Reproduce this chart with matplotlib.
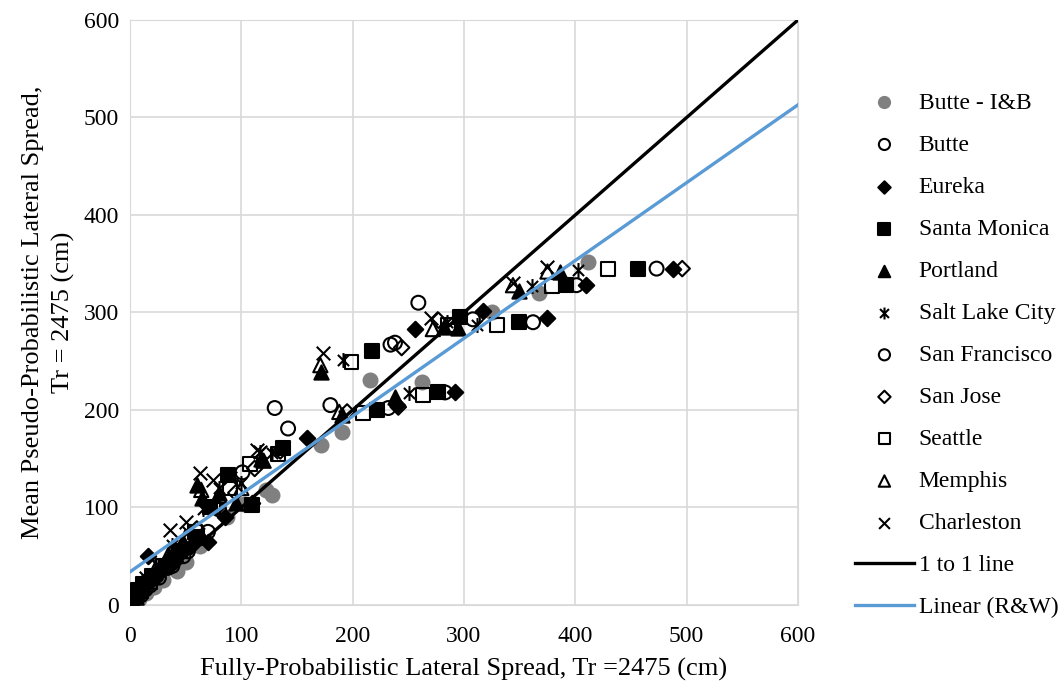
import numpy as np
import matplotlib.pyplot as plt
from matplotlib.path import Path

plt.rcParams['font.family'] = ['Liberation Serif', 'DejaVu Serif']

# (fully-probabilistic, pseudo-probabilistic) pairs, cm
butte_ib = [(2, 1), (8, 6), (14, 12), (22, 18), (30, 26), (42, 35), (50, 44), (63, 60), (87, 90),
            (102, 104), (122, 118), (128, 113), (172, 164), (190, 177), (216, 231), (262, 229),
            (325, 300), (367, 320), (411, 352)]
butte = [(1, 0), (4, 3), (10, 10), (18, 20), (26, 28), (38, 40), (52, 55), (70, 75), (101, 136),
         (142, 181), (180, 205), (234, 267), (259, 310), (362, 290), (473, 345)]
eureka = [(3, 4), (8, 10), (16, 50), (28, 35), (40, 45), (55, 60), (70, 65), (85, 90), (110, 105),
          (159, 171), (240, 205), (256, 283), (292, 218), (317, 302), (375, 294), (410, 328), (488, 345)]
santa_monica = [(2, 3), (7, 15), (12, 22), (20, 30), (32, 40), (45, 55), (60, 70), (72, 100), (88, 133),
                (110, 103), (137, 161), (217, 261), (222, 200), (277, 218), (296, 295), (349, 290),
                (392, 328), (456, 345)]
portland = [(5, 8), (12, 20), (20, 30), (35, 50), (48, 65), (60, 123), (65, 110), (80, 115), (95, 105),
            (118, 150), (172, 239), (190, 195), (238, 213), (282, 285), (295, 284), (349, 322), (386, 342)]
salt_lake = [(6, 12), (14, 25), (25, 40), (38, 62), (52, 75), (66, 98), (80, 120), (100, 125), (117, 157),
             (128, 156), (191, 251), (251, 217), (285, 290), (312, 287), (361, 327), (402, 344)]
san_francisco = [(0, 0), (6, 5), (14, 16), (24, 30), (34, 38), (48, 50), (62, 68), (80, 98), (130, 202),
                 (238, 269), (308, 293), (232, 202), (283, 218), (401, 328)]
san_jose = [(3, 2), (10, 12), (20, 25), (32, 42), (46, 58), (60, 78), (78, 100), (95, 115), (112, 140),
            (135, 158), (195, 198), (241, 203), (244, 264), (277, 292), (496, 345)]
seattle = [(4, 6), (10, 14), (18, 24), (30, 40), (44, 55), (58, 75), (75, 100), (90, 120), (108, 145),
           (133, 155), (199, 249), (209, 197), (263, 215), (286, 287), (330, 287), (379, 327), (429, 345)]
memphis = [(5, 10), (12, 22), (22, 35), (36, 55), (50, 70), (64, 118), (80, 112), (100, 120), (120, 148),
           (171, 246), (188, 198), (272, 283), (344, 328), (375, 342)]
charleston = [(6, 15), (14, 28), (24, 42), (36, 77), (50, 85), (63, 135), (75, 128), (90, 130), (114, 159),
              (117, 157), (173, 258), (270, 294), (344, 330), (375, 347)]

one_to_one_x = [0, 600]
one_to_one_y = [0, 600]
trend_x = [0, 600]
trend_y = [34, 513]

# Excel-style star marker: X with a vertical bar
star = Path([(0, -1), (0, 1), (-0.75, -0.75), (0.75, 0.75), (-0.75, 0.75), (0.75, -0.75)],
            [Path.MOVETO, Path.LINETO, Path.MOVETO, Path.LINETO, Path.MOVETO, Path.LINETO])

series = [
    ("Butte - I&B", butte_ib, dict(marker='o', s=100, facecolors='#808080', edgecolors='#808080')),
    ("Butte", butte, dict(marker='o', s=100, facecolors='none', edgecolors='black')),
    ("Eureka", eureka, dict(marker='D', s=62, facecolors='black', edgecolors='black')),
    ("Santa Monica", santa_monica, dict(marker='s', s=100, facecolors='black', edgecolors='black')),
    ("Portland", portland, dict(marker='^', s=105, facecolors='black', edgecolors='black')),
    ("Salt Lake City", salt_lake, dict(marker=star, s=115, facecolors='black', edgecolors='black')),
    ("San Francisco", san_francisco, dict(marker='o', s=100, facecolors='none', edgecolors='black')),
    ("San Jose", san_jose, dict(marker='D', s=62, facecolors='none', edgecolors='black')),
    ("Seattle", seattle, dict(marker='s', s=100, facecolors='none', edgecolors='black')),
    ("Memphis", memphis, dict(marker='^', s=105, facecolors='none', edgecolors='black')),
    ("Charleston", charleston, dict(marker='x', s=95, c='black')),
]

fig = plt.figure(figsize=(10.62, 6.87), dpi=100)
ax = fig.add_axes([0.1224, 0.1194, 0.629, 0.8515])

for label, pts, style in series:
    pts = np.array(pts)
    ax.scatter(pts[:, 0], pts[:, 1], label=label, linewidths=1.5, zorder=3, **style)

ax.plot(one_to_one_x, one_to_one_y, color='black', lw=2.4, label='1 to 1 line', zorder=4)
ax.plot(trend_x, trend_y, color='#5B9BD5', lw=2.4, label='Linear (R&W)', zorder=4)

ax.set_xlim(0, 600)
ax.set_ylim(0, 600)
ax.set_xticks(range(0, 601, 100))
ax.set_yticks(range(0, 601, 100))
ax.grid(color='#d9d9d9', lw=1.2)
ax.set_axisbelow(True)
for sp in ax.spines.values():
    sp.set_color('#d9d9d9')
ax.tick_params(length=0, labelsize=17)
ax.tick_params(axis='x', pad=15)
ax.tick_params(axis='y', pad=8)

ax.set_xlabel("Fully-Probabilistic Lateral Spread, Tr =2475 (cm)", fontsize=19, labelpad=8)
ax.set_ylabel("Mean Pseudo-Probabilistic Lateral Spread,\nTr = 2475 (cm)", fontsize=19,
              labelpad=6, linespacing=1.45)

fig.legend(loc='upper left', bbox_to_anchor=(0.805, 0.866), frameon=False, fontsize=17,
           borderaxespad=0, borderpad=0, handlelength=2.5, handletextpad=0.2,
           labelspacing=0.87, markerscale=0.8)

fig.savefig('out.png', dpi=100)
